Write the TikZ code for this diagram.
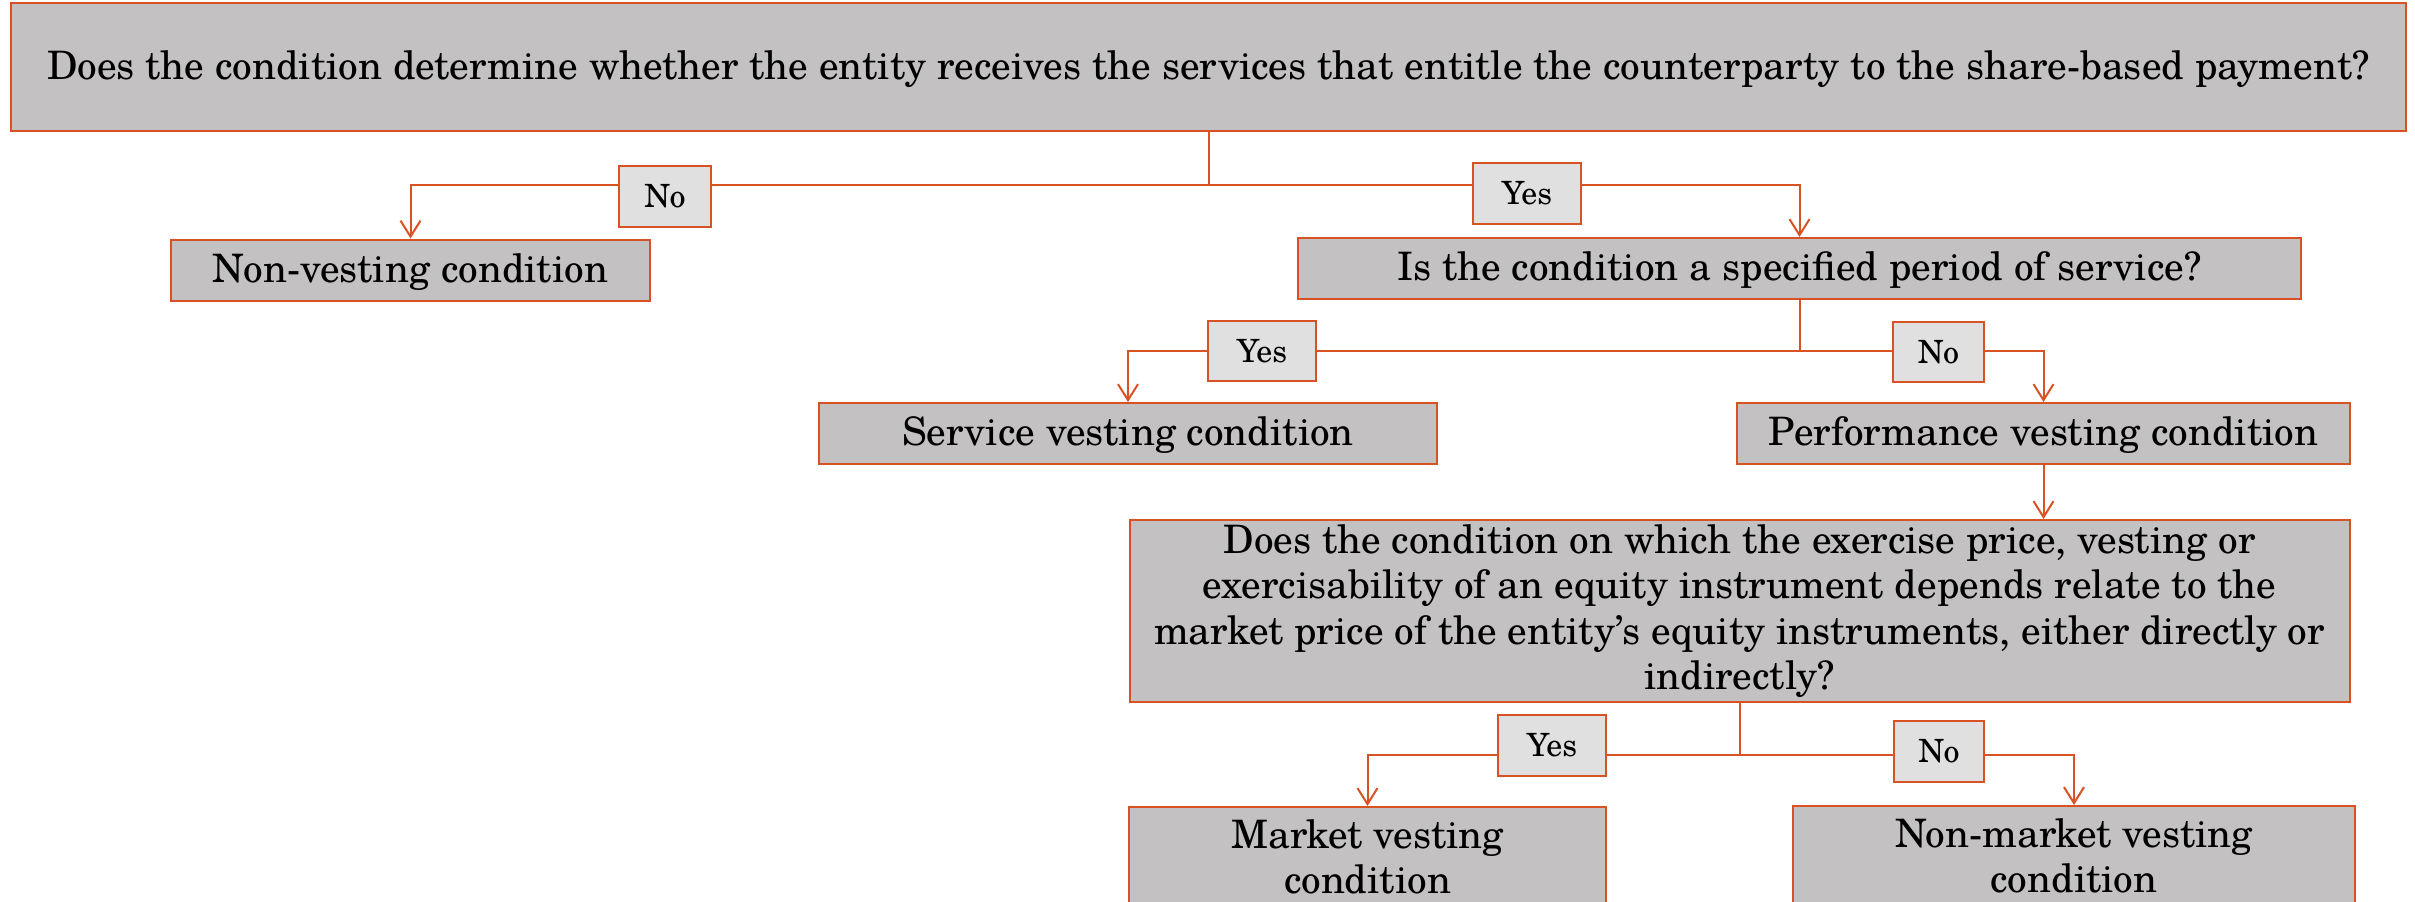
\documentclass[tikz,border=0pt]{standalone}
\usepackage{fontspec}
\setmainfont{TeX Gyre Schola}
\usetikzlibrary{arrows.meta}
\definecolor{edge}{RGB}{216,82,36}
\definecolor{boxfill}{RGB}{195,193,194}
\definecolor{labfill}{RGB}{224,224,224}
\tikzset{
  box/.style={draw=edge, fill=boxfill, line width=1pt, inner sep=0pt, align=center, font=\fontsize{19.6}{22.6}\selectfont},
  oneline/.style={text height=16.5pt, text depth=4.3pt},
  lab/.style={draw=edge, fill=labfill, line width=1pt, inner sep=0pt, font=\fontsize{16}{19}\selectfont},
  conn/.style={draw=edge, line width=1pt},
  arr/.style={conn, -{Straight Barb[length=8pt,width=10pt,line width=1pt]}},
}
\begin{document}
\begin{tikzpicture}[x=0.5pt,y=-0.5pt]
\useasboundingbox (0,0) rectangle (2415,901);
\clip (0,0) rectangle (2415,901);
% boxes
\node[box, oneline, minimum width=1197.5pt, minimum height=64pt] (top) at (1208.5,67) {Does the condition determine whether the entity receives the services that entitle the counterparty to the share-based payment?};
\node[box, oneline, minimum width=239.5pt, minimum height=30.5pt] (nonvest) at (410.5,270) {Non-vesting condition};
\node[box, oneline, minimum width=501.5pt, minimum height=30.5pt] (period) at (1799.5,268.5) {Is the condition a specified period of service?};
\node[box, oneline, minimum width=309pt, minimum height=30.5pt] (service) at (1128,433.5) {Service vesting condition};
\node[box, oneline, minimum width=306.5pt, minimum height=30.5pt] (perf) at (2043.5,433.5) {Performance vesting condition};
\node[box, minimum width=610pt, minimum height=91pt] (question) at (1739.5,611) {Does the condition on which the exercise price, vesting or\\exercisability of an equity instrument depends relate to the\\market price of the entity’s equity instruments, either directly or\\indirectly?};
\node[box, minimum width=238.5pt, minimum height=50pt, anchor=north] (market) at (1367.5,806) {Market vesting\\condition};
\node[box, minimum width=281pt, minimum height=50pt, anchor=north] (nonmarket) at (2074,805) {Non-market vesting\\condition};
% junctions
\coordinate (j1) at (1208,185);
\coordinate (j2) at (1799,351);
\coordinate (j3) at (1739,755);
% connectors
\draw[conn] (top.south) -- (top.south |- j1);
\draw[arr] (top.south |- j1) -| (nonvest.north);
\draw[arr] (top.south |- j1) -| (period.north);
\draw[conn] (period.south) -- (period.south |- j2);
\draw[arr] (period.south |- j2) -| (service.north);
\draw[arr] (period.south |- j2) -| (perf.north);
\draw[arr] (perf.south) -- (perf.south |- question.north);
\draw[conn] (question.south) -- (question.south |- j3);
\draw[arr] (question.south |- j3) -| (market.north);
\draw[arr] (question.south |- j3) -| (nonmarket.north);
% labels
\node[lab, minimum width=46pt, minimum height=30.5pt] (no1) at (665,196) {No};
\node[lab, minimum width=54pt, minimum height=30.5pt] (yes1) at (1527,193.5) {Yes};
\node[lab, minimum width=54pt, minimum height=30pt] (yes2) at (1262,351) {Yes};
\node[lab, minimum width=45.5pt, minimum height=30pt] (no2) at (1938.5,352) {No};
\node[lab, minimum width=54pt, minimum height=30.5pt] (yes3) at (1552,745.5) {Yes};
\node[lab, minimum width=45pt, minimum height=30.5pt] (no3) at (1939,751.5) {No};
\end{tikzpicture}
\end{document}
